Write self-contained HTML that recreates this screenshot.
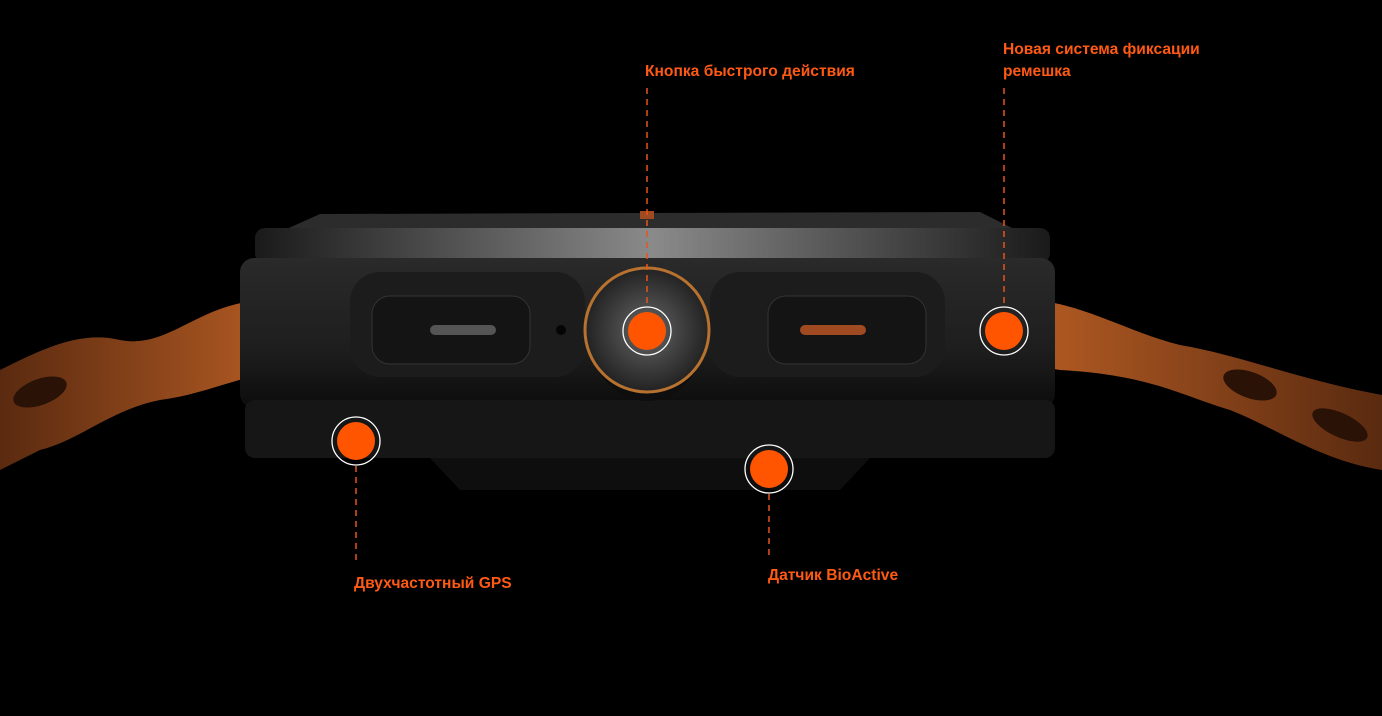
<!DOCTYPE html>
<html><head><meta charset="utf-8"><style>
html,body{margin:0;padding:0;background:#000;width:1382px;height:716px;overflow:hidden}
svg{display:block}
text{font-family:"Liberation Sans",sans-serif;font-weight:bold;font-size:15.6px;fill:#ff5a14}
</style></head><body>
<svg width="1382" height="716" viewBox="0 0 1382 716">
<defs>
<linearGradient id="top" x1="0" x2="1">
<stop offset="0" stop-color="#1a1a1a"/><stop offset="0.5" stop-color="#8a8a8a"/><stop offset="1" stop-color="#1a1a1a"/></linearGradient>
<linearGradient id="body" x1="0" y1="0" x2="0" y2="1">
<stop offset="0" stop-color="#2a2a2a"/><stop offset="0.6" stop-color="#1e1e1e"/><stop offset="1" stop-color="#0c0c0c"/></linearGradient>
<linearGradient id="strapL" x1="0" x2="1"><stop offset="0" stop-color="#5a2a10"/><stop offset="1" stop-color="#b85e24"/></linearGradient>
<linearGradient id="strapR" x1="0" x2="1"><stop offset="0" stop-color="#b85e24"/><stop offset="1" stop-color="#5a2a10"/></linearGradient>
<radialGradient id="crown"><stop offset="0" stop-color="#666"/><stop offset="1" stop-color="#222"/></radialGradient>
</defs>
<rect width="1382" height="716" fill="#000"/>
<path d="M0 370 C40 350 80 330 120 340 C170 350 200 300 270 300 C300 305 300 360 280 370 C230 380 200 395 160 400 C110 410 80 440 40 450 L0 470 Z" fill="url(#strapL)"/>
<ellipse cx="40" cy="392" rx="28" ry="13" fill="#2a1206" transform="rotate(-20 40 392)"/>
<path d="M1010 300 C1070 295 1120 330 1180 345 C1240 355 1300 380 1382 395 L1382 470 C1320 460 1280 430 1230 410 C1180 395 1150 375 1060 370 C1020 365 1005 330 1010 300 Z" fill="url(#strapR)"/>
<ellipse cx="1250" cy="385" rx="28" ry="13" fill="#2a1206" transform="rotate(20 1250 385)"/>
<ellipse cx="1340" cy="425" rx="30" ry="12" fill="#2a1206" transform="rotate(25 1340 425)"/>
<path d="M280 232 L320 214 L980 212 L1020 232 Z" fill="#2c2c2c"/>
<rect x="255" y="228" width="795" height="35" rx="10" fill="url(#top)"/>
<rect x="240" y="258" width="815" height="150" rx="14" fill="url(#body)"/>
<rect x="245" y="400" width="810" height="58" rx="10" fill="#161616"/>
<path d="M430 458 L870 458 L840 490 L460 490 Z" fill="#0e0e0e"/>
<rect x="350" y="272" width="235" height="105" rx="30" fill="#1c1c1c"/>
<rect x="710" y="272" width="235" height="105" rx="30" fill="#1c1c1c"/>
<rect x="372" y="296" width="158" height="68" rx="18" fill="#141414" stroke="#333"/>
<rect x="768" y="296" width="158" height="68" rx="18" fill="#141414" stroke="#333"/>
<rect x="430" y="325" width="66" height="10" rx="5" fill="#555"/>
<rect x="800" y="325" width="66" height="10" rx="5" fill="#a04a22"/>
<ellipse cx="647" cy="335" rx="58" ry="66" fill="#0e0e0e"/>
<ellipse cx="647" cy="330" rx="62" ry="62" fill="url(#crown)" stroke="#b8722f" stroke-width="3"/>
<rect x="640" y="211" width="14" height="8" fill="#a04a22"/>
<circle cx="561" cy="330" r="5" fill="#050505"/>
<g stroke="#e8541a" stroke-width="1.5" stroke-dasharray="6 5">
<line x1="647" y1="88" x2="647" y2="308"/>
<line x1="1004" y1="88" x2="1004" y2="308"/>
<line x1="356" y1="466" x2="356" y2="565"/>
<line x1="769" y1="494" x2="769" y2="556"/>
</g>
<g fill="#ff5500" stroke="none">
<circle cx="647" cy="331" r="19"/><circle cx="1004" cy="331" r="19"/>
<circle cx="356" cy="441" r="19"/><circle cx="769" cy="469" r="19"/>
</g>
<g fill="none" stroke="#fff" stroke-width="1.3">
<circle cx="647" cy="331" r="24"/><circle cx="1004" cy="331" r="24"/>
<circle cx="356" cy="441" r="24"/><circle cx="769" cy="469" r="24"/>
</g>
<text x="645" y="76">Кнопка быстрого действия</text>
<text x="1003" y="54">Новая система фиксации</text>
<text x="1003" y="76">ремешка</text>
<text x="354" y="588">Двухчастотный GPS</text>
<text x="768" y="580">Датчик BioActive</text>
</svg>
</body></html>
